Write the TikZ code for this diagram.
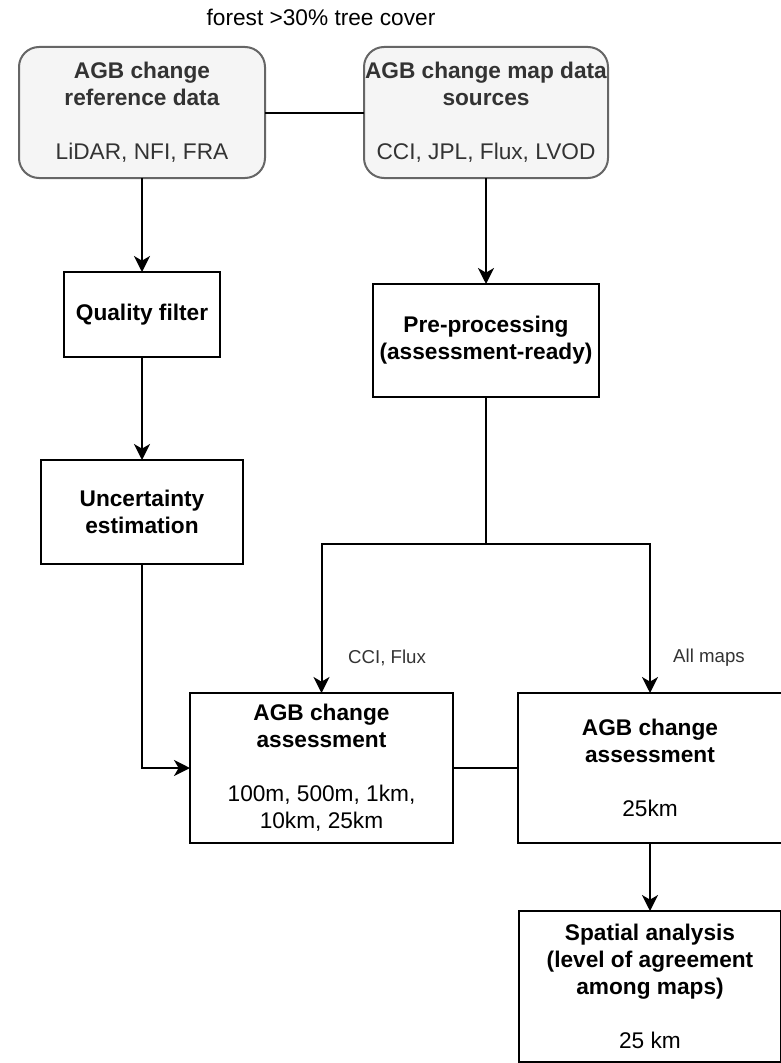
\documentclass[tikz,border=0pt]{standalone}
\usepackage{fontspec}
\setmainfont{Liberation Sans}
\usetikzlibrary{arrows.meta}
\definecolor{srcfill}{HTML}{F5F5F5}
\definecolor{srcline}{HTML}{666666}
\definecolor{srctext}{HTML}{333333}
\begin{document}
\begin{tikzpicture}[x=0.75pt,y=-0.75pt,
  every node/.style={inner sep=0pt, outer sep=0pt},
  boxtext/.style={align=center, font=\fontsize{17}{20.25}\selectfont},
  procbox/.style={boxtext, draw=black, line width=1.5pt, fill=white},
  sourcebox/.style={boxtext, draw=srcline, line width=1.5pt, fill=srcfill,
    text=srctext, rounded corners=15pt},
  flow/.style={line width=1.5pt, -{Stealth[length=12pt, width=12pt, inset=3.5pt]}},
  link/.style={line width=1.5pt},
  edgelabel/.style={font=\fontsize{14}{16.8}\selectfont, text=srctext}]
  \useasboundingbox (0,0) rectangle (781,1063);

  % heading
  \node[boxtext, text=black] (title) at (321,17) {forest >30\% tree cover};

  % data sources
  \node[sourcebox, minimum width=246*0.75pt, minimum height=131*0.75pt] (ref) at (142,112.5)
    {\textbf{AGB change}\\\textbf{reference data}\\~\\LiDAR, NFI, FRA};
  \node[sourcebox, minimum width=244*0.75pt, minimum height=131*0.75pt] (src) at (486,112.5)
    {\textbf{AGB change map data}\\\textbf{sources}\\~\\CCI, JPL, Flux, LVOD};

  % processing steps
  \node[procbox, minimum width=156*0.75pt, minimum height=85*0.75pt] (qf) at (142,314.5)
    {\textbf{Quality filter}};
  \node[procbox, minimum width=226*0.75pt, minimum height=113*0.75pt] (pre) at (486,340.5)
    {\textbf{Pre-processing}\\\textbf{(assessment-ready)}};
  \node[procbox, minimum width=202*0.75pt, minimum height=104*0.75pt] (unc) at (142,512)
    {\textbf{Uncertainty}\\\textbf{estimation}};
  \node[procbox, minimum width=263*0.75pt, minimum height=150*0.75pt] (ass1) at (321.5,768)
    {\textbf{AGB change}\\\textbf{assessment}\\~\\100m, 500m, 1km,\\10km, 25km};
  \node[procbox, minimum width=264*0.75pt, minimum height=150*0.75pt] (ass2) at (650,768)
    {\textbf{AGB change}\\\textbf{assessment}\\~\\25km};
  \node[procbox, minimum width=262*0.75pt, minimum height=151*0.75pt] (spat) at (650,986.5)
    {\textbf{Spatial analysis}\\\textbf{(level of agreement}\\\textbf{among maps)}\\~\\25 km};

  % branch point below pre-processing
  \coordinate (split) at (486,544);

  % connectors
  \draw[link] (ref.east) -- (src.west);
  \draw[flow] (ref.south) -- (qf.north);
  \draw[flow] (src.south) -- (pre.north);
  \draw[flow] (qf.south) -- (unc.north);
  \draw[link] (pre.south) -- (split);
  \draw[flow] (split) -| (ass1.north);
  \draw[flow] (split) -| (ass2.north);
  \draw[flow] (unc.south) |- (ass1.west);
  \draw[link] (ass1.east) -- (ass2.west);
  \draw[flow] (ass2.south) -- (spat.north);

  % branch labels
  \node[edgelabel] (lblcci) at (387,658) {CCI, Flux};
  \node[edgelabel] (lblall) at (709,658) {All maps};
\end{tikzpicture}
\end{document}
